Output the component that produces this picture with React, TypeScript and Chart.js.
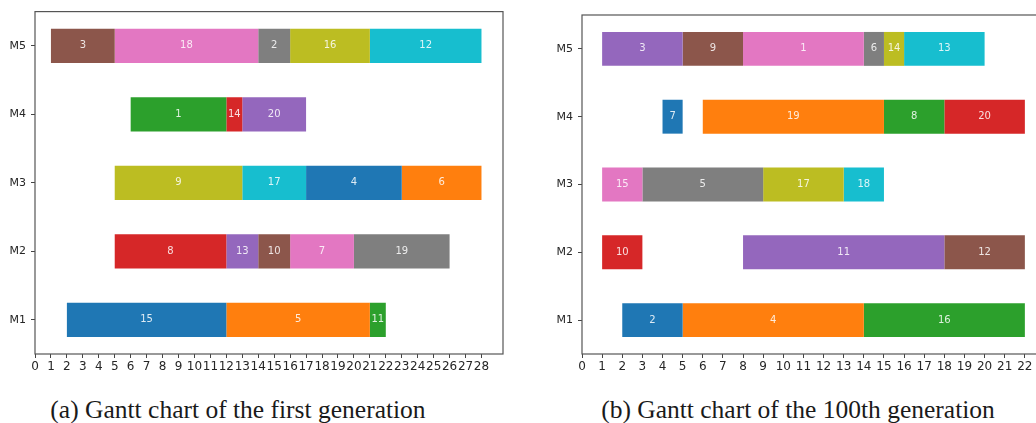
import React, { useEffect, useRef } from 'react';
import { Chart, registerables } from 'chart.js';

Chart.register(...registerables);

// Machines, listed top to bottom
const machineLabels = ['M5', 'M4', 'M3', 'M2', 'M1'];
// order in which colours are cycled (matplotlib tab10 style)
const colorOrder = ['M1', 'M2', 'M3', 'M4', 'M5'];
const palette = ['#1f77b4', '#ff7f0e', '#2ca02c', '#d62728', '#9467bd', '#8c564b', '#e377c2', '#7f7f7f', '#bcbd22', '#17becf'];

// (a) first generation: [job, start, end]
const genA_M1 = [[15, 2, 12], [5, 12, 21], [11, 21, 22]];
const genA_M2 = [[8, 5, 12], [13, 12, 14], [10, 14, 16], [7, 16, 20], [19, 20, 26]];
const genA_M3 = [[9, 5, 13], [17, 13, 17], [4, 17, 23], [6, 23, 28]];
const genA_M4 = [[1, 6, 12], [14, 12, 13], [20, 13, 17]];
const genA_M5 = [[3, 1, 5], [18, 5, 14], [2, 14, 16], [16, 16, 21], [12, 21, 28]];
const genA_xTicks = [0, 1, 2, 3, 4, 5, 6, 7, 8, 9, 10, 11, 12, 13, 14, 15, 16, 17, 18, 19, 20, 21, 22, 23, 24, 25, 26, 27, 28];
const genA_xMax = 29.35;

// (b) 100th generation: [job, start, end]
const genB_M1 = [[2, 2, 5], [4, 5, 14], [16, 14, 22]];
const genB_M2 = [[10, 1, 3], [11, 8, 18], [12, 18, 22]];
const genB_M3 = [[15, 1, 3], [5, 3, 9], [17, 9, 13], [18, 13, 15]];
const genB_M4 = [[7, 4, 5], [19, 6, 15], [8, 15, 18], [20, 18, 22]];
const genB_M5 = [[3, 1, 5], [9, 5, 8], [1, 8, 14], [6, 14, 15], [14, 15, 16], [13, 16, 20]];
const genB_xTicks = [0, 1, 2, 3, 4, 5, 6, 7, 8, 9, 10, 11, 12, 13, 14, 15, 16, 17, 18, 19, 20, 21, 22];
const genB_xMax = 23.05;

const captionA = '(a) Gantt chart of the first generation';
const captionB = '(b) Gantt chart of the 100th generation';

type Task = number[];

function buildDatasets(byMachine: Record<string, Task[]>) {
  const datasets: any[] = [];
  let c = 0;
  for (const m of colorOrder) {
    for (const t of byMachine[m]) {
      datasets.push({
        label: String(t[0]),
        job: t[0],
        data: machineLabels.map((ml) => (ml === m ? [t[1], t[2]] : null)),
        backgroundColor: palette[c % palette.length],
        borderWidth: 0,
        grouped: false,
        barPercentage: 0.5,
        categoryPercentage: 1.0,
      });
      c++;
    }
  }
  return datasets;
}

const tickFont = { family: 'DejaVu Sans', size: 12 };

const labelPlugin = {
  id: 'barLabels',
  afterDatasetsDraw(chart: any) {
    const ctx = chart.ctx;
    ctx.save();
    ctx.font = '10px "DejaVu Sans"';
    ctx.fillStyle = 'rgba(255,255,255,0.85)';
    ctx.textAlign = 'center';
    ctx.textBaseline = 'middle';
    chart.data.datasets.forEach((ds: any, i: number) => {
      const meta = chart.getDatasetMeta(i);
      meta.data.forEach((el: any, j: number) => {
        if (ds.data[j] == null) return;
        const p = el.getProps(['x', 'base', 'y'], true);
        ctx.fillText(String(ds.job), (p.x + p.base) / 2, p.y);
      });
    });
    ctx.restore();
  },
};

const framePlugin = {
  id: 'frame',
  afterDraw(chart: any) {
    const { ctx, chartArea } = chart;
    ctx.save();
    ctx.strokeStyle = '#555';
    ctx.lineWidth = 1.2;
    ctx.strokeRect(chartArea.left, chartArea.top, chartArea.right - chartArea.left, chartArea.bottom - chartArea.top);
    ctx.restore();
  },
};

function makeConfig(byMachine: Record<string, Task[]>, xTicks: number[], xMax: number, padTop: number, axisHeight: number): any {
  return {
    type: 'bar',
    data: { labels: machineLabels, datasets: buildDatasets(byMachine) },
    options: {
      indexAxis: 'y',
      animation: false,
      responsive: false,
      devicePixelRatio: 1,
      layout: { padding: { top: padTop, right: 1, left: 0, bottom: 0 } },
      plugins: { legend: { display: false }, tooltip: { enabled: false } },
      scales: {
        x: {
          type: 'linear',
          min: 0,
          max: xMax,
          afterBuildTicks: (axis: any) => {
            axis.ticks = xTicks.map((v) => ({ value: v }));
          },
          afterFit: (axis: any) => {
            axis.height = axisHeight;
          },
          ticks: { autoSkip: false, maxRotation: 0, minRotation: 0, padding: 2, color: '#262626', font: tickFont },
          grid: { drawOnChartArea: false, drawTicks: true, tickLength: 4, color: '#444' },
          border: { display: false },
        },
        y: {
          type: 'category',
          offset: true,
          afterFit: (axis: any) => {
            axis.width = 35;
          },
          ticks: { padding: 5, color: '#262626', font: { family: 'DejaVu Sans', size: 11 } },
          grid: { drawOnChartArea: false, drawTicks: true, tickLength: 4, color: '#444', offset: false },
          border: { display: false },
        },
      },
    },
    plugins: [labelPlugin, framePlugin],
  };
}

function GanttCanvas(props: { config: any; width: number; height: number; left: number }) {
  const ref = useRef<HTMLCanvasElement | null>(null);
  useEffect(() => {
    if (!ref.current) return;
    const chart = new Chart(ref.current, props.config);
    return () => chart.destroy();
  }, []);
  return (
    <canvas
      ref={ref}
      width={props.width}
      height={props.height}
      style={{ position: 'absolute', left: props.left, top: 0, width: props.width, height: props.height }}
    />
  );
}

export default function App() {
  useEffect(() => {
    document.body.style.margin = '0';
  }, []);
  const cfgA = makeConfig({ M1: genA_M1, M2: genA_M2, M3: genA_M3, M4: genA_M4, M5: genA_M5 }, genA_xTicks, genA_xMax, 11, 26);
  const cfgB = makeConfig({ M1: genB_M1, M2: genB_M2, M3: genB_M3, M4: genB_M4, M5: genB_M5 }, genB_xTicks, genB_xMax, 15, 26);
  const captionStyle: React.CSSProperties = {
    position: 'absolute',
    top: 395,
    width: 480,
    textAlign: 'center',
    fontFamily: '"Liberation Serif", serif',
    fontSize: 25.5,
    color: '#1a1a1a',
    whiteSpace: 'nowrap',
  };
  return (
    <div style={{ position: 'relative', width: 1036, height: 423, overflow: 'hidden', background: '#fff' }}>
      <GanttCanvas config={cfgA} width={504} height={380} left={0} />
      <GanttCanvas config={cfgB} width={500} height={380} left={547} />
      <div style={{ ...captionStyle, left: 238 - 240 }}>{captionA}</div>
      <div style={{ ...captionStyle, left: 798 - 240 }}>{captionB}</div>
    </div>
  );
}
